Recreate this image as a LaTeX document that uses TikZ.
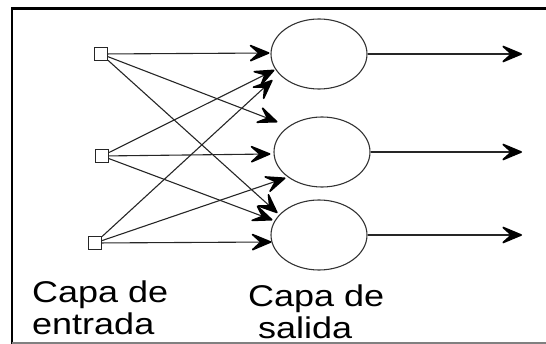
\documentclass[tikz,border=0pt]{standalone}
\usepackage{fontspec}
\setmainfont{Liberation Sans}
\newfontfamily\labelfont[FakeStretch=1.2]{Liberation Sans}
\usetikzlibrary{arrows.meta,calc,shapes.geometric}
\begin{document}
\begin{tikzpicture}[x=1pt,y=1pt,
  inbox/.style={draw=black!85, line width=1.1pt, minimum size=13pt, inner sep=0pt},
  neuron/.style={draw=black!80, line width=1.1pt, ellipse, minimum width=96pt, minimum height=70pt, inner sep=0pt},
  arr/.style={draw=black!85, line width=1.1pt, -{Stealth[length=24pt,width=20pt,inset=11pt,line width=1.6pt,round,color=black]}},
  lbl/.style={font=\labelfont\fontsize{30}{32}\selectfont, inner sep=0pt, align=left}]
\useasboundingbox (0,0) rectangle (546,-344);
% frame
\draw[line width=2.5pt] (12.2,-344) -- (12.2,-8.7) -- (546,-8.7);
\draw[gray, line width=2pt] (12,-343) -- (546,-343);
% nodes
\node[inbox] (s1) at (101,-54) {};
\node[inbox] (s2) at (102,-156) {};
\node[inbox] (s3) at (95,-243) {};
\node[neuron] (e1) at (319,-54) {};
\node[neuron] (e2) at (322,-152) {};
\node[neuron] (e3) at (319,-235) {};
\coordinate (o1) at (522,-53);
\coordinate (o2) at (522,-155);
\coordinate (o3) at (522,-237);
% connectors
\draw[arr] (s1) -- ($(e1.west)+(-1,1)$);
\draw[arr] (s2) -- ($(e1.west)+(4,-16)$);
\draw[arr] (s3) -- ($(e1.west)+(2,-26)$);
\draw[arr] (s1) -- ($(e2.west)+(4,30)$);
\draw[arr] (s2) -- ($(e2.west)+(-3,-2)$);
\draw[arr] (s3) -- ($(e2.west)+(12,-26)$);
\draw[arr] (s1) -- ($(e3.west)+(7,22)$);
\draw[arr] (s2) -- ($(e3.west)+(2,15)$);
\draw[arr] (s3) -- ($(e3.west)+(1,-7)$);
\draw[arr] (e1.east) -- (e1.east -| o1);
\draw[arr] (e2.east) -- (e2.east -| o2);
\draw[arr] (e3.east) -- (e3.east -| o3);
% labels
\node[lbl, anchor=north west] (lin) at (32,-281) {Capa de\\entrada};
\node[lbl, anchor=north west] (lout) at (248,-285) {Capa de\\\hspace*{10pt}salida};
\end{tikzpicture}
\end{document}
